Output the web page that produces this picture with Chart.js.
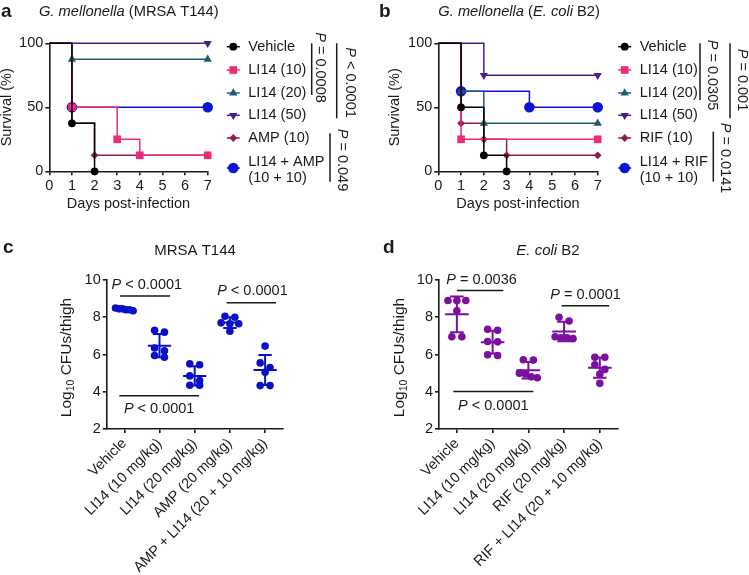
<!DOCTYPE html>
<html><head><meta charset="utf-8">
<script src="https://cdn.jsdelivr.net/npm/chart.js@4.4.1/dist/chart.umd.min.js"></script>
<style>
html,body{margin:0;padding:0;background:#fff;}
#wrap{position:relative;width:749px;height:575px;overflow:hidden;background:#fff;}
canvas{position:absolute;}
</style></head><body>
<div id="wrap">
<canvas id="ca" style="left:0;top:0;width:375px;height:235px" width="375" height="235"></canvas>
<canvas id="cb" style="left:375px;top:0;width:374px;height:235px" width="374" height="235"></canvas>
<canvas id="cc" style="left:0;top:230px;width:375px;height:345px" width="375" height="345"></canvas>
<canvas id="cd" style="left:375px;top:230px;width:374px;height:345px" width="374" height="345"></canvas>
</div>
<script>
// ---------------- DATA ----------------
// survival panels (a, b)
const survDayTicks = [0, 1, 2, 3, 4, 5, 6, 7];
const survPctTicks = [0, 50, 100];

const aLabels = ['Vehicle', 'LI14 (10)', 'LI14 (20)', 'LI14 (50)', 'AMP (10)', 'LI14 + AMP\n(10 + 10)'];
const aVehicleDays = [0, 1, 2];        const aVehicleSurv = [100, 37.5, 0];
const aLI14_10Days = [0, 1, 3, 4, 7];  const aLI14_10Surv = [100, 50, 25, 12.5, 12.5];
const aLI14_20Days = [0, 1, 7];        const aLI14_20Surv = [100, 87.5, 87.5];
const aLI14_50Days = [0, 7];           const aLI14_50Surv = [100, 100];
const aAMPDays = [0, 1, 2, 7];         const aAMPSurv = [100, 37.5, 12.5, 12.5];
const aComboDays = [0, 1, 7];          const aComboSurv = [100, 50, 50];

const bLabels = ['Vehicle', 'LI14 (10)', 'LI14 (20)', 'LI14 (50)', 'RIF (10)', 'LI14 + RIF\n(10 + 10)'];
const bVehicleDays = [0, 1, 2, 3];     const bVehicleSurv = [100, 50, 12.5, 0];
const bLI14_10Days = [0, 1, 7];        const bLI14_10Surv = [100, 25, 25];
const bLI14_20Days = [0, 1, 2, 7];     const bLI14_20Surv = [100, 62.5, 37.5, 37.5];
const bLI14_50Days = [0, 2, 7];        const bLI14_50Surv = [100, 75, 75];
const bRIFDays = [0, 1, 2, 3, 7];      const bRIFSurv = [100, 37.5, 25, 12.5, 12.5];
const bComboDays = [0, 1, 4, 7];       const bComboSurv = [100, 62.5, 50, 50];

// CFU panels (c, d)
const cfuTicks = [2, 4, 6, 8, 10];
const cCategories = ['Vehicle', 'LI14 (10 mg/kg)', 'LI14 (20 mg/kg)', 'AMP (20 mg/kg)', 'AMP + LI14 (20 + 10 mg/kg)'];
const cVehicle = [8.5, 8.45, 8.45, 8.4, 8.4, 8.35];
const cLI14_10 = [7.3, 7.2, 6.35, 6.2, 5.95, 5.85];
const cLI14_20 = [5.5, 5.45, 4.85, 4.6, 4.35, 4.35];
const cAMP = [8.05, 8.0, 7.7, 7.65, 7.65, 7.25];
const cCombo = [6.45, 5.55, 5.3, 5.05, 4.33, 4.33];

const dCategories = ['Vehicle', 'LI14 (10 mg/kg)', 'LI14 (20 mg/kg)', 'RIF (20 mg/kg)', 'RIF + LI14 (20 + 10 mg/kg)'];
const dVehicle = [8.9, 8.9, 8.9, 8.35, 6.95, 6.95];
const dLI14_10 = [7.35, 7.3, 6.7, 6.68, 5.98, 5.95];
const dLI14_20 = [5.72, 5.7, 5.0, 4.95, 4.8, 4.75];
const dRIF = [8.0, 7.8, 6.95, 6.9, 6.9, 6.85];
const dCombo = [5.85, 5.85, 5.45, 5.2, 4.95, 4.45];

// ---------------- STYLE ----------------
const FONT = "'Liberation Sans', Arial, Helvetica, sans-serif";
const INK = '#1a1a1a';
const FS = 14.5;
const SERIES_STYLE = [
  {color: '#000000', style: 'circle', r: 3.9},
  {color: '#EE2A7B', style: 'rect', r: 5.4},
  {color: '#1F5C70', style: 'triangle', r: 4.8, rot: 0},
  {color: '#4B1D8C', style: 'triangle', r: 4.8, rot: 180},
  {color: '#8F1B4F', style: 'rectRot', r: 3.9},
  {color: '#0B17CF', style: 'circle', r: 5.3}
];

function fontStr(size, italic, bold) {
  return (italic ? 'italic ' : '') + (bold ? 'bold ' : '') + size + 'px ' + FONT;
}
// parts: [text, italic, bold, size?, dy?]
function drawRich(ctx, parts, x, y, align, size) {
  let w = 0;
  parts.forEach(p => { ctx.font = fontStr(p[3] || size, p[1], p[2]); w += ctx.measureText(p[0]).width; });
  let sx = align === 'center' ? x - w / 2 : (align === 'right' ? x - w : x);
  ctx.textAlign = 'left'; ctx.textBaseline = 'middle';
  parts.forEach(p => {
    ctx.font = fontStr(p[3] || size, p[1], p[2]);
    ctx.fillText(p[0], sx, y + (p[4] || 0));
    sx += ctx.measureText(p[0]).width;
  });
}
function zeroPad(sc) { sc.paddingLeft = 0; sc.paddingRight = 0; sc.paddingTop = 0; sc.paddingBottom = 0; }

function axisCommon() {
  return {
    grid: {drawOnChartArea: false, drawTicks: true, tickLength: 4, color: INK, lineWidth: 1.6},
    border: {display: true, color: INK, width: 1.6},
    ticks: {color: INK, font: {family: FONT, size: FS}, padding: 2, autoSkip: false}
  };
}

// ---------------- SURVIVAL CHARTS ----------------
function survivalChart(id, W, H, area, yTitleX, series, labels, legendX, brackets, titleParts) {
  const datasets = series.map((s, k) => {
    const st = SERIES_STYLE[k];
    return {
      data: s[0].map((d, i) => ({x: d, y: s[1][i]})),
      borderColor: st.color, backgroundColor: st.color, borderWidth: 1.5,
      stepped: 'before', fill: false, clip: false,
      pointStyle: st.style, pointRotation: st.rot || 0,
      pointRadius: ctx => ctx.dataIndex === 0 ? 0 : st.r,
      pointBorderWidth: 0, pointHoverRadius: 0
    };
  });
  const xa = axisCommon(), ya = axisCommon();
  const padLeft = yTitleX - FS / 2;
  new Chart(document.getElementById(id), {
    type: 'line',
    data: {datasets},
    options: {
      responsive: false, animation: false, events: [],
      layout: {padding: {left: padLeft, top: area.t, right: W - area.r, bottom: 0}},
      plugins: {legend: {display: false}, tooltip: {enabled: false}},
      scales: {
        x: Object.assign(xa, {
          type: 'linear', min: 0, max: 7,
          afterBuildTicks: sc => { sc.ticks = survDayTicks.map(v => ({value: v})); },
          ticks: Object.assign(xa.ticks, {maxRotation: 0, padding: 2}),
          title: {display: true, text: 'Days post-infection', color: INK, font: {family: FONT, size: FS, lineHeight: 1}, padding: {top: 0, bottom: 24}},
          afterFit: sc => { sc.height = H - area.b; zeroPad(sc); }
        }),
        y: Object.assign(ya, {
          type: 'linear', min: 0, max: 100,
          afterBuildTicks: sc => { sc.ticks = survPctTicks.map(v => ({value: v})); },
          title: {display: true, text: 'Survival (%)', color: INK, font: {family: FONT, size: FS, lineHeight: 1}, padding: {top: 0, bottom: 0}},
          afterFit: sc => { sc.width = area.l - padLeft; zeroPad(sc); }
        })
      }
    },
    plugins: [{
      id: 'extras',
      afterDraw(chart) {
        const ctx = chart.ctx;
        ctx.save();
        ctx.fillStyle = INK;
        // panel title
        drawRich(ctx, titleParts.letter, titleParts.lx, 12, 'left', 19);
        drawRich(ctx, titleParts.text, titleParts.tx, 12, 'left', 14.7);
        // legend
        const rows = [46.7, 70, 93, 115.3, 138, 168];
        labels.forEach((lab, k) => {
          const st = SERIES_STYLE[k];
          const y = rows[k];
          ctx.strokeStyle = st.color; ctx.lineWidth = 1.5;
          ctx.beginPath(); ctx.moveTo(legendX - 6.5, y); ctx.lineTo(legendX + 6.5, y); ctx.stroke();
          ctx.fillStyle = st.color;
          Chart.helpers.drawPoint(ctx, {pointStyle: st.style, rotation: st.rot || 0, radius: st.r, borderWidth: 0}, legendX, y);
          ctx.fillStyle = INK;
          const lines = lab.split('\n');
          if (lines.length === 1) drawRich(ctx, [[lines[0]]], legendX + 15, y, 'left', FS);
          else {
            drawRich(ctx, [[lines[0]]], legendX + 15, y - 6, 'left', FS);
            drawRich(ctx, [[lines[1]]], legendX + 15, y + 10, 'left', FS);
          }
        });
        // significance brackets (vertical)
        brackets.forEach(b => {
          ctx.strokeStyle = INK; ctx.lineWidth = 1.5;
          ctx.beginPath(); ctx.moveTo(b.x, b.y1); ctx.lineTo(b.x, b.y2); ctx.stroke();
          ctx.save();
          ctx.translate(b.tx, b.ty); ctx.rotate(Math.PI / 2);
          ctx.fillStyle = INK;
          drawRich(ctx, [['P', true], [b.text]], 0, 0, 'center', FS);
          ctx.restore();
        });
        ctx.restore();
      }
    }]
  });
}

survivalChart('ca', 375, 235, {l: 49.3, t: 43.3, r: 207.7, b: 171.3}, 7,
  [[aVehicleDays, aVehicleSurv], [aLI14_10Days, aLI14_10Surv], [aLI14_20Days, aLI14_20Surv],
   [aLI14_50Days, aLI14_50Surv], [aAMPDays, aAMPSurv], [aComboDays, aComboSurv]],
  aLabels, 233.3,
  [{x: 311.7, y1: 43.3, y2: 95, tx: 320, ty: 67.5, text: ' = 0.0008'},
   {x: 336.7, y1: 43.3, y2: 118.3, tx: 350, ty: 82.5, text: ' < 0.0001'},
   {x: 330, y1: 133.3, y2: 181.7, tx: 341.7, ty: 160, text: ' = 0.049'}],
  {letter: [['a', false, true]], lx: 1, text: [['G. mellonella', true], [' (MRSA T144)']], tx: 39});

survivalChart('cb', 374, 235, {l: 63.3, t: 43.3, r: 222.7, b: 171.3}, 20,
  [[bVehicleDays, bVehicleSurv], [bLI14_10Days, bLI14_10Surv], [bLI14_20Days, bLI14_20Surv],
   [bLI14_50Days, bLI14_50Surv], [bRIFDays, bRIFSurv], [bComboDays, bComboSurv]],
  bLabels, 249.7,
  [{x: 325, y1: 43.3, y2: 100, tx: 336.7, ty: 75, text: ' = 0.0305'},
   {x: 355, y1: 43.3, y2: 118.3, tx: 366.7, ty: 80, text: ' = 0.001'},
   {x: 338.3, y1: 131.7, y2: 181.7, tx: 350, ty: 158, text: ' = 0.0141'}],
  {letter: [['b', false, true]], lx: 4, text: [['G. mellonella', true], [' (', false], ['E. coli', true], [' B2)']], tx: 63.3});

// ---------------- CFU CHARTS ----------------
function swarm(values, gi) {
  const sorted = values.slice().sort((a, b) => b - a);
  const rows = [];
  sorted.forEach(v => {
    const r = rows.find(rw => Math.abs(rw[0] - v) < 0.3);
    if (r) r.push(v); else rows.push([v]);
  });
  const pts = [];
  rows.forEach(r => {
    const k = r.length;
    const step = k > 1 ? Math.min(0.28, 0.5 / (k - 1)) : 0;
    r.forEach((v, i) => pts.push({x: gi + (i - (k - 1) / 2) * step, y: v}));
  });
  return pts;
}
const mean = a => a.reduce((s, v) => s + v, 0) / a.length;
const sd = a => { const m = mean(a); return Math.sqrt(a.reduce((s, v) => s + (v - m) * (v - m), 0) / (a.length - 1)); };

function cfuChart(id, W, H, area, yTitleX, cats, groups, color, brackets, titleParts) {
  const pts = [];
  groups.forEach((g, gi) => swarm(g, gi).forEach(p => pts.push(p)));
  const xa = axisCommon(), ya = axisCommon();
  const padLeft = yTitleX - FS / 2;
  new Chart(document.getElementById(id), {
    type: 'scatter',
    data: {datasets: [{data: pts, backgroundColor: color, borderColor: color, pointRadius: 3.8, pointBorderWidth: 0, pointHoverRadius: 0, clip: false}]},
    options: {
      responsive: false, animation: false, events: [],
      layout: {padding: {left: padLeft, top: area.t, right: W - area.r, bottom: 0}},
      plugins: {legend: {display: false}, tooltip: {enabled: false}},
      scales: {
        x: Object.assign(xa, {
          type: 'linear', min: -0.5, max: 4.5,
          afterBuildTicks: sc => { sc.ticks = cats.map((c, i) => ({value: i})); },
          ticks: Object.assign(xa.ticks, {minRotation: 45, maxRotation: 45, padding: 2, callback: v => cats[v]}),
          afterFit: sc => { sc.height = H - area.b; zeroPad(sc); }
        }),
        y: Object.assign(ya, {
          type: 'linear', min: 2, max: 10,
          afterBuildTicks: sc => { sc.ticks = cfuTicks.map(v => ({value: v})); },
          afterFit: sc => { sc.width = area.l - padLeft; zeroPad(sc); }
        })
      }
    },
    plugins: [{
      id: 'extras',
      afterDraw(chart) {
        const ctx = chart.ctx, xs = chart.scales.x, ys = chart.scales.y;
        ctx.save();
        // error bars: mean ± SD
        ctx.strokeStyle = color; ctx.lineWidth = 2;
        groups.forEach((g, gi) => {
          const m = mean(g), s = sd(g);
          const X = xs.getPixelForValue(gi);
          const hw = xs.getPixelForValue(gi + 0.33) - X, cw = xs.getPixelForValue(gi + 0.19) - X;
          const yM = ys.getPixelForValue(m), yT = ys.getPixelForValue(m + s), yB = ys.getPixelForValue(m - s);
          ctx.beginPath();
          ctx.moveTo(X - hw, yM); ctx.lineTo(X + hw, yM);
          ctx.moveTo(X - cw, yT); ctx.lineTo(X + cw, yT);
          ctx.moveTo(X - cw, yB); ctx.lineTo(X + cw, yB);
          ctx.moveTo(X, yT); ctx.lineTo(X, yB);
          ctx.stroke();
        });
        // brackets
        ctx.strokeStyle = INK; ctx.fillStyle = INK; ctx.lineWidth = 1.5;
        brackets.forEach(b => {
          const y = ys.getPixelForValue(b.y);
          ctx.beginPath(); ctx.moveTo(xs.getPixelForValue(b.x1), y); ctx.lineTo(xs.getPixelForValue(b.x2), y); ctx.stroke();
          drawRich(ctx, [['P', true], [b.text]], xs.getPixelForValue(b.tx), ys.getPixelForValue(b.ty), 'center', FS);
        });
        // titles
        drawRich(ctx, [[titleParts.letter, false, true]], titleParts.lx, 18, 'left', 19);
        drawRich(ctx, titleParts.text, titleParts.tx, 20.7, 'center', 15);
        // y title with subscript
        ctx.save();
        ctx.translate(yTitleX, (chart.chartArea.top + chart.chartArea.bottom) / 2 + 3);
        ctx.rotate(-Math.PI / 2);
        drawRich(ctx, [['Log'], ['10', false, false, 10.5, 4], [' CFUs/thigh']], 0, 0, 'center', 15.5);
        ctx.restore();
        ctx.restore();
      }
    }]
  });
}

cfuChart('cc', 375, 345, {l: 106.7, t: 50, r: 282.7, b: 199}, 67, cCategories,
  [cVehicle, cLI14_10, cLI14_20, cAMP, cCombo], '#0A10C8',
  [{x1: -0.12, x2: 1.3, y: 9.14, tx: 0.64, ty: 9.73, text: ' < 0.0001'},
   {x1: 2.91, x2: 4.31, y: 8.78, tx: 3.64, ty: 9.43, text: ' < 0.0001'},
   {x1: -0.14, x2: 2.12, y: 3.78, tx: 0.99, ty: 3.07, text: ' < 0.0001'}],
  {letter: 'c', lx: 3, text: [['MRSA T144']], tx: 195});

cfuChart('cd', 374, 345, {l: 64, t: 50, r: 242.7, b: 199}, 25, dCategories,
  [dVehicle, dLI14_10, dLI14_20, dRIF, dCombo], '#7A0FA0',
  [{x1: 0.0, x2: 1.3, y: 9.43, tx: 0.69, ty: 10.0, text: ' = 0.0036'},
   {x1: 2.93, x2: 4.26, y: 8.62, tx: 3.6, ty: 9.2, text: ' = 0.0001'},
   {x1: -0.1, x2: 2.14, y: 4.01, tx: 1.02, ty: 3.24, text: ' < 0.0001'}],
  {letter: 'd', lx: 8, text: [['E. coli', true], [' B2']], tx: 173});
</script>
</body></html>
